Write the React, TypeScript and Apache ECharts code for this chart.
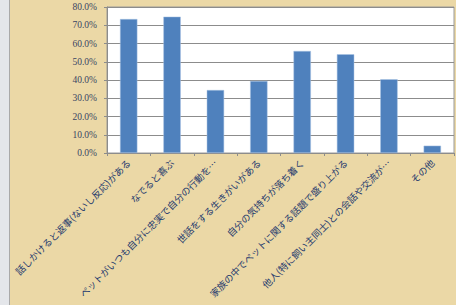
import React, { useEffect, useRef } from "react";
import * as echarts from "echarts";

const categories: string[] = [
  "話しかけると返事(ないし反応)がある",
  "なでると喜ぶ",
  "ペットがいつも自分に忠実で自分の行動を…",
  "世話をする生きがいがある",
  "自分の気持ちが落ち着く",
  "家族の中でペットに関する話題で盛り上がる",
  "他人(特に飼い主同士)との会話や交流が…",
  "その他",
];
const values: number[] = [73.4, 74.7, 34.5, 39.5, 55.9, 54.1, 40.4, 4.0];
const yTicks: number[] = [0, 10, 20, 30, 40, 50, 60, 70, 80];

export default function App() {
  const ref = useRef<HTMLDivElement>(null);
  useEffect(() => {
    if (!ref.current) return;
    const chart = echarts.init(ref.current, null, { renderer: "svg" });
    chart.setOption({
      animation: false,
      backgroundColor: "#EBD8A6",
      graphic: [
        { type: "rect", shape: { x: 0, y: 0, width: 9, height: 305 }, style: { fill: "#E4E6EA" }, z: 0 },
        { type: "line", shape: { x1: 9.5, y1: 0, x2: 9.5, y2: 305 }, style: { stroke: "#A9A9A9", lineWidth: 1 }, z: 0 },
      ],
      grid: {
        left: 107,
        right: 2,
        top: 7,
        bottom: 152,
        show: true,
        backgroundColor: "#FFFFFF",
        borderColor: "#9A9A9A",
        borderWidth: 1,
        containLabel: false,
      },
      xAxis: {
        type: "category",
        data: categories,
        boundaryGap: true,
        axisLine: { lineStyle: { color: "#8C8C8C", width: 1 } },
        axisTick: { show: true, length: 3, inside: false, lineStyle: { color: "#8C8C8C" } },
        axisLabel: {
          interval: 0,
          rotate: 45,
          margin: 8,
          fontSize: 9.5,
          color: "#1F3A6E",
          fontFamily: "Noto Sans CJK JP",
        },
      },
      yAxis: {
        type: "value",
        min: yTicks[0],
        max: yTicks[yTicks.length - 1],
        interval: 10,
        axisLine: { show: true, lineStyle: { color: "#8C8C8C" } },
        axisTick: { show: true, length: 3, lineStyle: { color: "#8C8C8C" } },
        splitLine: { lineStyle: { color: "#8C8C8C", width: 1 } },
        axisLabel: {
          margin: 10,
          fontSize: 9.5,
          color: "#3A4563",
          fontFamily: "Liberation Serif",
          formatter: (v: number) => v.toFixed(1) + "%",
        },
      },
      series: [
        {
          type: "bar",
          data: values,
          barWidth: "40%",
          itemStyle: { color: "#4F81BD", borderColor: "#A9C2E2", borderWidth: 0.5 },
        },
      ],
    });
    return () => chart.dispose();
  }, []);
  return (
    <div
      ref={ref}
      style={{ position: "absolute", left: 0, top: 0, width: 456, height: 305 }}
    />
  );
}
